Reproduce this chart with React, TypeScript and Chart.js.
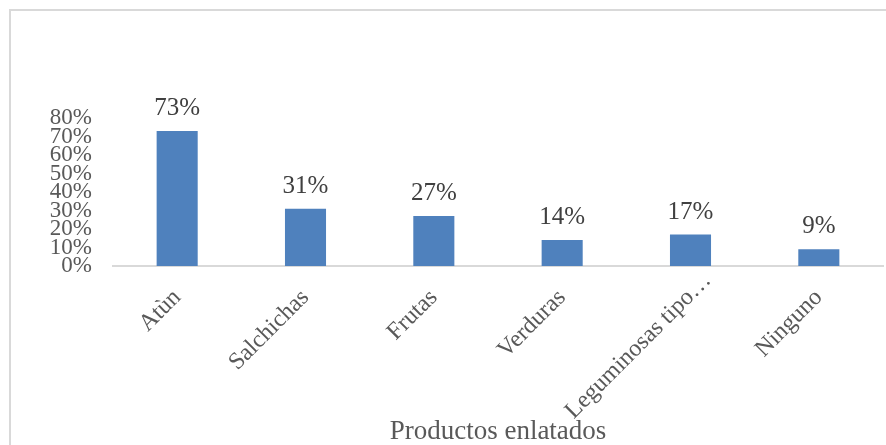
import React, { useEffect, useRef } from "react";
import { Chart, registerables } from "chart.js";

Chart.register(...registerables);

const categories = ["Atùn", "Salchichas", "Frutas", "Verduras", "Leguminosas tipo…", "Ninguno"];
const values = [0.73, 0.31, 0.27, 0.14, 0.17, 0.09];
const axisTitle = "Productos enlatados";
const yMax = 0.8;
const yStep = 0.1;

const SERIF = '"Liberation Serif", "Times New Roman", serif';
const ELLIPSIS = "…";

const valueLabels = {
  id: "valueLabels",
  afterDatasetsDraw(chart: any) {
    const ctx = chart.ctx;
    const meta = chart.getDatasetMeta(0);
    ctx.save();
    ctx.font = `25px ${SERIF}`;
    ctx.fillStyle = "#404040";
    ctx.textAlign = "center";
    ctx.textBaseline = "alphabetic";
    meta.data.forEach((bar: any, i: number) => {
      const v = chart.data.datasets[0].data[i] as number;
      ctx.fillText(`${Math.round(v * 100)}%`, bar.x, bar.y - 16);
    });
    ctx.restore();
  },
};

// Truncated category names: the ellipsis runs on past the tick anchor (as Excel does)
const truncatedTail = {
  id: "truncatedTail",
  afterDraw(chart: any) {
    const sc = chart.scales.x;
    const items = sc.getLabelItems();
    const ctx = chart.ctx;
    items.forEach((it: any, idx: number) => {
      const full = categories[idx];
      if (!full || !full.endsWith(ELLIPSIS)) return;
      ctx.save();
      ctx.translate(it.options.translation[0], it.options.translation[1]);
      ctx.rotate(it.options.rotation);
      ctx.font = it.font.string;
      ctx.fillStyle = it.options.color;
      ctx.textAlign = "left";
      ctx.textBaseline = it.options.textBaseline;
      ctx.fillText(ELLIPSIS, 0, it.textOffset);
      ctx.restore();
    });
  },
};

export default function App() {
  const ref = useRef<HTMLCanvasElement>(null);
  useEffect(() => {
    if (!ref.current) return;
    const chart = new Chart(ref.current, {
      type: "bar",
      data: {
        labels: categories,
        datasets: [
          {
            data: values,
            backgroundColor: "#4f81bd",
            borderWidth: 0,
            barPercentage: 0.32,
            categoryPercentage: 1,
          },
        ],
      },
      options: {
        responsive: false,
        animation: false,
        layout: { padding: { top: 118, left: 0, right: 3, bottom: 0 } },
        plugins: { legend: { display: false }, tooltip: { enabled: false } },
        scales: {
          x: {
            grid: { display: false, drawTicks: false },
            border: { display: true, color: "#d9d9d9", width: 2 },
            ticks: {
              autoSkip: false,
              minRotation: 45,
              maxRotation: 45,
              padding: 25,
              color: "#595959",
              font: { family: SERIF, size: 24, lineHeight: "8px" as any },
              callback: (_v: any, i: number) => {
                const c = categories[i];
                return c.endsWith(ELLIPSIS) ? c.slice(0, -ELLIPSIS.length) : c;
              },
            },
            title: {
              display: true,
              text: axisTitle,
              color: "#595959",
              font: { family: SERIF, size: 27, lineHeight: 1 },
              padding: { top: 0, bottom: 0 },
            },
            afterFit: (s: any) => {
              s.height = 445 - 266;
            },
          },
          y: {
            min: 0,
            max: yMax,
            grid: { display: false, drawTicks: false },
            border: { display: false },
            ticks: {
              stepSize: yStep,
              autoSkip: false,
              padding: 21,
              color: "#595959",
              font: { family: SERIF, size: 23 },
              callback: (v: any) => `${Math.round(Number(v) * 100)}%`,
            },
            afterFit: (s: any) => {
              s.width = 113;
            },
          },
        },
      },
      plugins: [valueLabels, truncatedTail],
    });
    return () => chart.destroy();
  }, []);

  return (
    <div style={{ position: "absolute", left: 0, top: 0, width: 886, height: 445, background: "#fff", overflow: "hidden" }}>
      <canvas ref={ref} width={886} height={445} style={{ position: "absolute", left: 0, top: 0 }} />
      <div
        style={{
          position: "absolute",
          left: 9,
          top: 9,
          width: 900,
          height: 500,
          borderLeft: "2px solid #d9d9d9",
          borderTop: "2px solid #d9d9d9",
          pointerEvents: "none",
        }}
      />
    </div>
  );
}
